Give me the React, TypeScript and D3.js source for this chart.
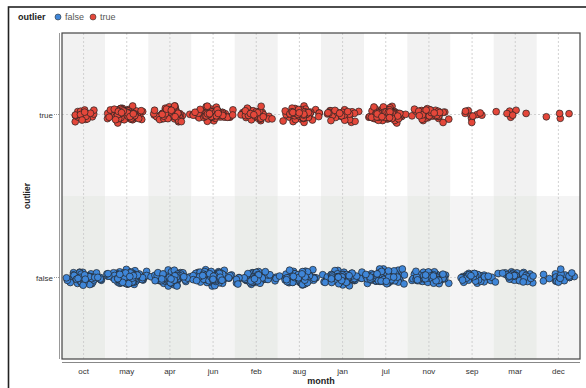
import React from "react";
import * as d3 from "d3";

const months = ["oct", "may", "apr", "jun", "feb", "aug", "jan", "jul", "nov", "sep", "mar", "dec"];
const outlierLevels = ["false", "true"];
const falseCounts = [80, 150, 100, 120, 90, 110, 90, 140, 110, 40, 45, 20];
const trueCounts = [18, 120, 70, 80, 45, 70, 40, 100, 50, 10, 7, 4];
const colors: Record<string, string> = { false: "#3f86d8", true: "#e4473a" };

function mulberry32(a: number) {
  return function () {
    a |= 0;
    a = (a + 0x6d2b79f5) | 0;
    let t = Math.imul(a ^ (a >>> 15), 1 | a);
    t = (t + Math.imul(t ^ (t >>> 7), 61 | t)) ^ t;
    return ((t ^ (t >>> 14)) >>> 0) / 4294967296;
  };
}

export default function App() {
  const W = 586, H = 388;
  const left = 62, right = 580, top = 33, bottom = 359;
  const x = d3.scaleBand<string>().domain(months).range([left, right]).padding(0);
  const y = d3.scaleBand<string>().domain(["true", "false"]).range([top, bottom]).padding(0);
  const bw = x.bandwidth();
  const bh = y.bandwidth();

  const rng = mulberry32(12345);
  const gauss = () => {
    const u = Math.max(rng(), 1e-9), v = rng();
    return Math.sqrt(-2 * Math.log(u)) * Math.cos(2 * Math.PI * v);
  };
  const clamp = (v: number, a: number) => Math.max(-a, Math.min(a, v));
  type P = { m: string; o: string; jx: number; jy: number };
  const pts: P[] = [];
  outlierLevels.forEach((o) => {
    const counts = o === "false" ? falseCounts : trueCounts;
    months.forEach((m, i) => {
      for (let k = 0; k < counts[i]; k++) {
        pts.push({ m, o, jx: clamp(gauss() * 0.19, 0.46), jy: clamp(gauss() * 3.2, 8.5) });
      }
    });
  });

  const cellFill = (o: string, i: number) => {
    if (o === "true") return i % 2 === 0 ? "#f2f2f2" : "#ffffff";
    return i % 2 === 0 ? "#ebedea" : "#f4f4f4";
  };

  return (
    <svg width={W} height={H} style={{ position: "absolute", left: 0, top: 0 }} fontFamily="Liberation Sans, Arial, sans-serif">
      <rect x={0} y={0} width={W} height={H} fill="#fff" />
      <rect x={8.5} y={7} width={640} height={420} fill="none" stroke="#222" strokeWidth={1.6} />
      {/* legend */}
      <text x={18} y={20} fontSize={9} fontWeight="bold" fill="#222">outlier</text>
      <circle cx={58} cy={17} r={3} fill={colors.false} stroke="#333" strokeWidth={0.6} />
      <text x={65} y={20} fontSize={9} fill="#555">false</text>
      <circle cx={93} cy={17} r={3} fill={colors.true} stroke="#333" strokeWidth={0.6} />
      <text x={100} y={20} fontSize={9} fill="#555">true</text>
      {/* cells */}
      {outlierLevels.map((o) =>
        months.map((m, i) => (
          <rect key={o + m} x={x(m)} y={y(o)} width={bw} height={bh} fill={cellFill(o, i)} />
        ))
      )}
      {/* grid */}
      {months.map((m) => (
        <line key={"g" + m} x1={x(m)! + bw / 2} x2={x(m)! + bw / 2} y1={top} y2={bottom} stroke="#c8c8c8" strokeDasharray="2,2" strokeWidth={0.8} />
      ))}
      {outlierLevels.map((o) => (
        <line key={"h" + o} x1={left} x2={right} y1={y(o)! + bh / 2} y2={y(o)! + bh / 2} stroke="#c8c8c8" strokeDasharray="2,2" strokeWidth={0.8} />
      ))}
      {/* points */}
      {pts.map((p, i) => (
        <circle
          key={i}
          cx={x(p.m)! + bw / 2 + p.jx * bw}
          cy={y(p.o)! + bh / 2 + p.jy}
          r={3.4}
          fill={colors[p.o]}
          stroke="#222"
          strokeWidth={0.7}
        />
      ))}
      {/* frame */}
      <rect x={left} y={top} width={right - left} height={bottom - top} fill="none" stroke="#444" strokeWidth={1.2} />
      <line x1={59.5} x2={59.5} y1={top} y2={bottom} stroke="#999" strokeWidth={1} />
      <line x1={left} x2={right} y1={362.5} y2={362.5} stroke="#888" strokeWidth={1.2} />
      {/* y axis */}
      {outlierLevels.map((o) => (
        <g key={"y" + o}>
          <line x1={54} x2={59} y1={y(o)! + bh / 2} y2={y(o)! + bh / 2} stroke="#999" strokeDasharray="1,1" />
          <text x={53} y={y(o)! + bh / 2 + 3} fontSize={8} fill="#333" textAnchor="end">{o}</text>
        </g>
      ))}
      <text transform={`translate(30,${(top + bottom) / 2}) rotate(-90)`} fontSize={8.5} fontWeight="bold" textAnchor="middle" fill="#222">outlier</text>
      {/* x axis */}
      {months.map((m) => (
        <text key={"t" + m} x={x(m)! + bw / 2} y={374} fontSize={8} fill="#333" textAnchor="middle">{m}</text>
      ))}
      <text x={(left + right) / 2} y={384} fontSize={9} fontWeight="bold" textAnchor="middle" fill="#222">month</text>
    </svg>
  );
}
